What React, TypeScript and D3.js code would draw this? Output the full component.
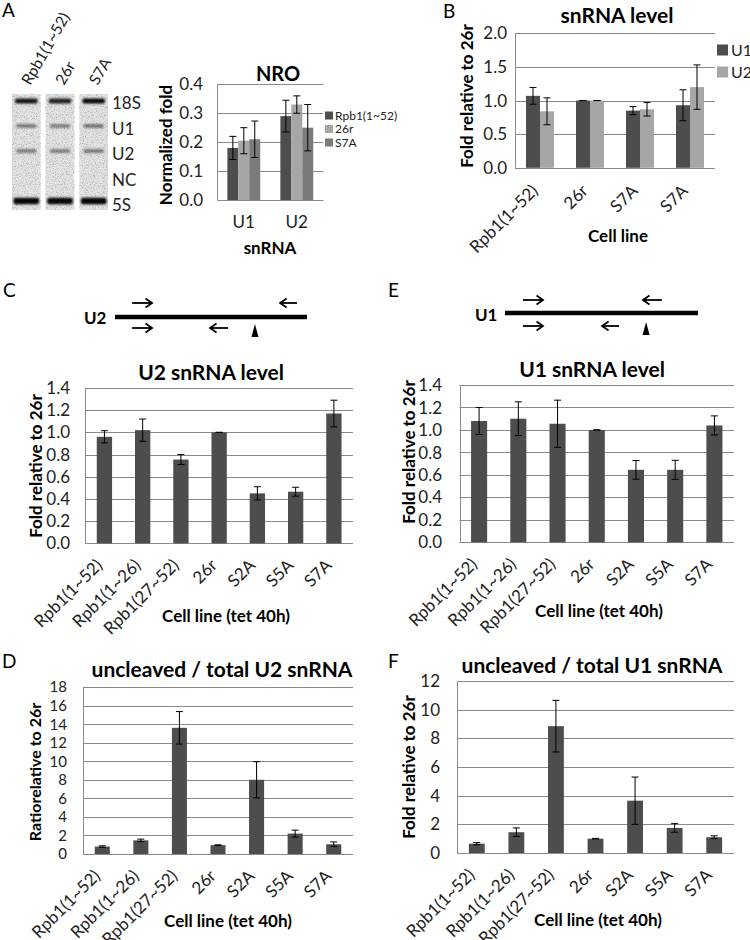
import React from "react";
import * as d3 from "d3";

const FONT = "Lato, 'Open Sans', 'DejaVu Sans', sans-serif";
const DARK = "#4d4d4d";
const LIGHT = "#a6a6a6";
const MID = "#7b7b7b";
const GRID = "#8a8a8a";
const TICK_FS = 17;
const AXIS_FS = 17;
const TITLE_FS = 21;

// ---------- Panel A: gel ----------
const gelLanes = ["Rpb1(1~52)", "26r", "S7A"];
const gelBands = ["18S", "U1", "U2", "NC", "5S"];
const gelIntensity = [
  [0.9, 0.85, 0.97],
  [0.42, 0.4, 0.46],
  [0.42, 0.4, 0.44],
  [0, 0, 0],
  [0.98, 0.97, 0.98],
];

// ---------- Panel A: NRO ----------
const nroCategories = ["U1", "U2"];
const nroSeriesNames = ["Rpb1(1~52)", "26r", "S7A"];
const nroRpb1 = [0.18, 0.29];
const nroRpb1Err = [0.04, 0.055];
const nro26r = [0.205, 0.33];
const nro26rErr = [0.045, 0.03];
const nroS7A = [0.21, 0.25];
const nroS7AErr = [0.063, 0.08];

// ---------- Panel B ----------
const bCellLines = ["Rpb1(1~52)", "26r", "S7A", "S7A"];
const bSeriesNames = ["U1", "U2"];
const bU1 = [1.07, 1.0, 0.85, 0.93];
const bU1Err = [0.125, 0, 0.06, 0.23];
const bU2 = [0.84, 1.0, 0.87, 1.2];
const bU2Err = [0.2, 0, 0.1, 0.33];

// ---------- Panels C-F ----------
const cellLines = ["Rpb1(1~52)", "Rpb1(1~26)", "Rpb1(27~52)", "26r", "S2A", "S5A", "S7A"];
const u2Level = [0.96, 1.02, 0.755, 1.0, 0.45, 0.465, 1.17];
const u2LevelErr = [0.055, 0.1, 0.045, 0, 0.06, 0.04, 0.12];
const u1Level = [1.08, 1.1, 1.055, 1.0, 0.645, 0.645, 1.04];
const u1LevelErr = [0.12, 0.15, 0.21, 0, 0.083, 0.085, 0.085];
const u2Uncleaved = [0.8, 1.47, 13.6, 0.95, 8.0, 2.2, 1.05];
const u2UncleavedErr = [0.08, 0.13, 1.75, 0.04, 1.95, 0.37, 0.25];
const u1Uncleaved = [0.65, 1.45, 8.85, 1.0, 3.65, 1.75, 1.1];
const u1UncleavedErr = [0.08, 0.3, 1.8, 0.02, 1.65, 0.3, 0.1];

// ---------- Diagrams (relative positions along the gene) ----------
const u2Primers = [
  { from: 0.089, to: 0.193, row: "top" },
  { from: 0.948, to: 0.86, row: "top" },
  { from: 0.089, to: 0.193, row: "bottom" },
  { from: 0.589, to: 0.495, row: "bottom" },
];
const u2Cleavage = 0.729;
const u1Primers = [
  { from: 0.093, to: 0.197, row: "top" },
  { from: 0.813, to: 0.715, row: "top" },
  { from: 0.093, to: 0.197, row: "bottom" },
  { from: 0.591, to: 0.503, row: "bottom" },
];
const u1Cleavage = 0.731;

type Series = { values: number[]; errors: number[]; color: string };

const crisp = (v: number) => Math.round(v) + 0.5;

function BarChart(p: {
  left: number; right: number; top: number; bottom: number;
  max: number; step: number; decimals: number;
  categories: string[]; series: Series[]; barFrac: number;
  tickRight: number; rotate: boolean; labelDx?: number; labelDy?: number; tickSize?: number;
}) {
  const y = d3.scaleLinear().domain([0, p.max]).range([p.bottom, p.top]);
  const idx = d3.range(p.categories.length);
  const x = d3.scaleBand<number>().domain(idx).range([p.left, p.right])
    .paddingInner(1 - p.barFrac).paddingOuter((1 - p.barFrac) / 2);
  const sx = d3.scaleBand<number>().domain(d3.range(p.series.length)).range([0, x.bandwidth()]);
  const ticks = d3.range(0, Math.round(p.max / p.step) + 1).map((i) => i * p.step);
  const fmt = d3.format(`.${p.decimals}f`);
  const cap = 3.5;
  return (
    <g>
      {ticks.map((t) => (
        <line key={"g" + t} x1={p.left} x2={p.right} y1={crisp(y(t))} y2={crisp(y(t))} stroke={GRID} strokeWidth={1} />
      ))}
      {ticks.map((t) => (
        <text key={"t" + t} x={p.tickRight} y={y(t)} dy="0.36em" textAnchor="end" fontSize={p.tickSize ?? TICK_FS} fill="#222">{fmt(t)}</text>
      ))}
      {p.series.map((s, si) =>
        s.values.map((v, i) => (
          <rect key={`b${si}-${i}`} x={x(i)! + sx(si)!} y={y(v)} width={sx.bandwidth()} height={y(0) - y(v)} fill={s.color} />
        ))
      )}
      <line x1={crisp(p.left)} x2={crisp(p.left)} y1={p.top} y2={p.bottom} stroke={GRID} strokeWidth={1} />
      {p.series.map((s, si) =>
        s.values.map((v, i) => {
          const cx = x(i)! + sx(si)! + sx.bandwidth() / 2;
          const e = s.errors[i];
          const y1 = y(v + e), y2 = y(v - e);
          return (
            <g key={`e${si}-${i}`} stroke="#000" strokeWidth={1}>
              <line x1={cx} x2={cx} y1={y1} y2={y2} />
              <line x1={cx - cap} x2={cx + cap} y1={y1} y2={y1} />
              <line x1={cx - cap} x2={cx + cap} y1={y2} y2={y2} />
            </g>
          );
        })
      )}
      {p.rotate
        ? p.categories.map((c, i) => {
            const cx = x(i)! + x.bandwidth() / 2;
            return (
              <text key={"c" + i} transform={`translate(${cx + (p.labelDx ?? -1)},${p.bottom + (p.labelDy ?? 23)}) rotate(-45)`} textAnchor="end" fontSize={TICK_FS} fill="#222">{c}</text>
            );
          })
        : null}
    </g>
  );
}

function YLabel({ x, y, text, size = AXIS_FS }: { x: number; y: number; text: string; size?: number }) {
  return (
    <text transform={`translate(${x},${y}) rotate(-90)`} dy="0.36em" textAnchor="middle" fontSize={size} fontWeight="bold">{text}</text>
  );
}

function Gel() {
  const lx = d3.scaleBand<string>().domain(gelLanes).range([12, 108]).paddingInner(0.15);
  const by = d3.scalePoint<string>().domain(gelBands).range([101, 201]);
  const ly = d3.scalePoint<string>().domain(gelBands).range([109, 211]);
  const bandH: Record<string, number> = { "18S": 5, U1: 4, U2: 4, NC: 3, "5S": 6.5 };
  const inset: Record<string, number> = { "18S": 3, U1: 4, U2: 4, NC: 4, "5S": 1.5 };
  return (
    <g>
      <defs>
        <filter id="bandBlur" x="-20%" y="-100%" width="140%" height="300%">
          <feGaussianBlur stdDeviation="1.1" />
        </filter>
        <filter id="grain" x="0" y="0" width="100%" height="100%">
          <feTurbulence type="fractalNoise" baseFrequency="0.9" numOctaves="2" seed="7" result="n" />
          <feColorMatrix in="n" type="matrix" values="0 0 0 0 0  0 0 0 0 0  0 0 0 0 0  1.6 0 0 0 -0.75" />
        </filter>
      </defs>
      {gelLanes.map((l) => (
        <g key={l}>
          <rect x={lx(l)} y={94} width={lx.bandwidth()} height={116} fill="#e4e4e4" />
          <rect x={lx(l)} y={94} width={lx.bandwidth()} height={116} fill="#000" filter="url(#grain)" opacity={0.4} />
        </g>
      ))}
      {gelBands.map((b, bi) =>
        gelLanes.map((l, li) =>
          gelIntensity[bi][li] > 0 ? (
            <rect key={b + l} x={lx(l)! + inset[b]} width={lx.bandwidth() - 2 * inset[b]} y={by(b)! - bandH[b] / 2} height={bandH[b]} rx={2}
              fill="#000" opacity={gelIntensity[bi][li]} filter="url(#bandBlur)" />
          ) : null
        )
      )}
      {gelBands.map((b) => (
        <text key={"lb" + b} x={112} y={ly(b)} fontSize={17} fill="#222">{b}</text>
      ))}
      {gelLanes.map((l) => (
        <text key={"ll" + l} transform={`translate(${lx(l)! + lx.bandwidth() / 2 + 4},86) rotate(-60)`} fontSize={15.5} fill="#222">{l}</text>
      ))}
    </g>
  );
}

function Diagram({ label, labelX, labelY, x0, x1, lineY, topY, bottomY, primers, cleavage }: {
  label: string; labelX: number; labelY: number; x0: number; x1: number; lineY: number;
  topY: number; bottomY: number; primers: { from: number; to: number; row: string }[]; cleavage: number;
}) {
  const g = d3.scaleLinear().domain([0, 1]).range([x0, x1]);
  const wx = g(cleavage);
  const wy = bottomY - 4;
  return (
    <g>
      <text x={labelX} y={labelY} fontSize={17} fontWeight="bold">{label}</text>
      <line x1={x0} x2={x1} y1={lineY} y2={lineY} stroke="#000" strokeWidth={4.5} />
      {primers.map((pr, i) => {
        const y = pr.row === "top" ? topY : bottomY;
        const a = g(pr.from), b = g(pr.to);
        const dir = b > a ? 1 : -1;
        return (
          <g key={i} stroke="#000" strokeWidth={1.8} fill="none">
            <line x1={a} x2={b} y1={y} y2={y} />
            <polyline points={`${b - dir * 6.5},${y - 4.5} ${b},${y} ${b - dir * 6.5},${y + 4.5}`} />
          </g>
        );
      })}
      <path d={`M${wx},${wy} L${wx + 3.5},${wy + 13} L${wx - 3.5},${wy + 13} Z`} fill="#000" />
    </g>
  );
}

export default function App() {
  const nroSeries: Series[] = [
    { values: nroRpb1, errors: nroRpb1Err, color: DARK },
    { values: nro26r, errors: nro26rErr, color: LIGHT },
    { values: nroS7A, errors: nroS7AErr, color: MID },
  ];
  const nroColors = [DARK, LIGHT, MID];
  const bSeries: Series[] = [
    { values: bU1, errors: bU1Err, color: DARK },
    { values: bU2, errors: bU2Err, color: LIGHT },
  ];
  const bColors = [DARK, LIGHT];
  const nroX = d3.scaleBand<string>().domain(nroCategories).range([217.3, 323.3]);
  const legendY = d3.scalePoint<string>().domain(nroSeriesNames).range([115.5, 142.5]);
  return (
    <svg width={750} height={940} style={{ position: "absolute", left: 0, top: 0, background: "#fff" }} fontFamily={FONT}>
      <rect width={750} height={940} fill="#fff" />
      {/* panel letters */}
      <text x={2} y={17} fontSize={19}>A</text>
      <text x={443} y={18} fontSize={19}>B</text>
      <text x={3} y={297} fontSize={19}>C</text>
      <text x={2} y={668} fontSize={19}>D</text>
      <text x={388} y={297} fontSize={19}>E</text>
      <text x={388} y={668} fontSize={19}>F</text>

      <Gel />

      {/* NRO */}
      <text x={278} y={81} textAnchor="middle" fontSize={20} fontWeight="bold">NRO</text>
      <BarChart left={217.3} right={323.3} top={84.3} bottom={200} max={0.4} step={0.1} decimals={1}
        categories={nroCategories} series={nroSeries} barFrac={0.62} tickRight={203} rotate={false} />
      {nroCategories.map((c) => (
        <text key={c} x={nroX(c)! + nroX.bandwidth() / 2} y={228} textAnchor="middle" fontSize={TICK_FS} fill="#222">{c}</text>
      ))}
      <YLabel x={166} y={145} text="Normalized fold" />
      <text x={270} y={254} textAnchor="middle" fontSize={AXIS_FS} fontWeight="bold">snRNA</text>
      {nroSeriesNames.map((n, i) => (
        <g key={n}>
          <rect x={325} y={legendY(n)! - 4} width={8} height={8} fill={nroColors[i]} />
          <text x={335} y={legendY(n)} dy="0.36em" fontSize={12} fill="#222">{n}</text>
        </g>
      ))}

      {/* B */}
      <text x={617} y={23} textAnchor="middle" fontSize={TITLE_FS} fontWeight="bold">snRNA level</text>
      <BarChart left={515} right={715} top={33.3} bottom={167.8} max={2} step={0.5} decimals={1}
        categories={bCellLines} series={bSeries} barFrac={0.56} tickRight={507} rotate={true} labelDx={-1} labelDy={24} />
      <YLabel x={467} y={96} text="Fold relative to 26r" />
      <text x={618} y={242} textAnchor="middle" fontSize={AXIS_FS} fontWeight="bold">Cell line</text>
      {bSeriesNames.map((n, i) => (
        <g key={n}>
          <rect x={717} y={50 + i * 22 - 5.5} width={11} height={11} fill={bColors[i]} />
          <text x={731} y={50 + i * 22} dy="0.36em" fontSize={16} fill="#222">{n}</text>
        </g>
      ))}

      {/* C */}
      <Diagram label="U2" labelX={84} labelY={324} x0={115} x1={307} lineY={317} topY={303} bottomY={328} primers={u2Primers} cleavage={u2Cleavage} />
      <text x={211} y={380} textAnchor="middle" fontSize={TITLE_FS} fontWeight="bold">U2 snRNA level</text>
      <BarChart left={85.3} right={353} top={388} bottom={543.3} max={1.4} step={0.2} decimals={1}
        categories={cellLines} series={[{ values: u2Level, errors: u2LevelErr, color: DARK }]} barFrac={0.4} tickRight={70} rotate={true} />
      <YLabel x={36} y={466} text="Fold relative to 26r" />
      <text x={226} y={622} textAnchor="middle" fontSize={AXIS_FS} fontWeight="bold">Cell line (tet 40h)</text>

      {/* D */}
      <text x={222} y={677} textAnchor="middle" fontSize={TITLE_FS} fontWeight="bold">uncleaved / total U2 snRNA</text>
      <BarChart left={83} right={353} top={687} bottom={854} max={18} step={2} decimals={0}
        categories={cellLines} series={[{ values: u2Uncleaved, errors: u2UncleavedErr, color: DARK }]} barFrac={0.39} tickRight={67} rotate={true} tickSize={15} />
      <YLabel x={35} y={772} text="Ratiorelative to 26r" size={16} />
      <text x={228} y={927} textAnchor="middle" fontSize={AXIS_FS} fontWeight="bold">Cell line (tet 40h)</text>

      {/* E */}
      <Diagram label="U1" labelX={475} labelY={321} x0={505} x1={698} lineY={313} topY={300} bottomY={326} primers={u1Primers} cleavage={u1Cleavage} />
      <text x={592} y={377} textAnchor="middle" fontSize={TITLE_FS} fontWeight="bold">U1 snRNA level</text>
      <BarChart left={459.5} right={734} top={385} bottom={542.3} max={1.4} step={0.2} decimals={1}
        categories={cellLines} series={[{ values: u1Level, errors: u1LevelErr, color: DARK }]} barFrac={0.41} tickRight={442} rotate={true} />
      <YLabel x={409} y={452} text="Fold relative to 26r" />
      <text x={599} y={617} textAnchor="middle" fontSize={AXIS_FS} fontWeight="bold">Cell line (tet 40h)</text>

      {/* F */}
      <text x={592} y={673} textAnchor="middle" fontSize={TITLE_FS} fontWeight="bold">uncleaved / total U1 snRNA</text>
      <BarChart left={457} right={734} top={681} bottom={853} max={12} step={2} decimals={0}
        categories={cellLines} series={[{ values: u1Uncleaved, errors: u1UncleavedErr, color: DARK }]} barFrac={0.4} tickRight={440} rotate={true} />
      <YLabel x={409} y={767} text="Fold relative to 26r" />
      <text x={598} y={926} textAnchor="middle" fontSize={AXIS_FS} fontWeight="bold">Cell line (tet 40h)</text>
    </svg>
  );
}
